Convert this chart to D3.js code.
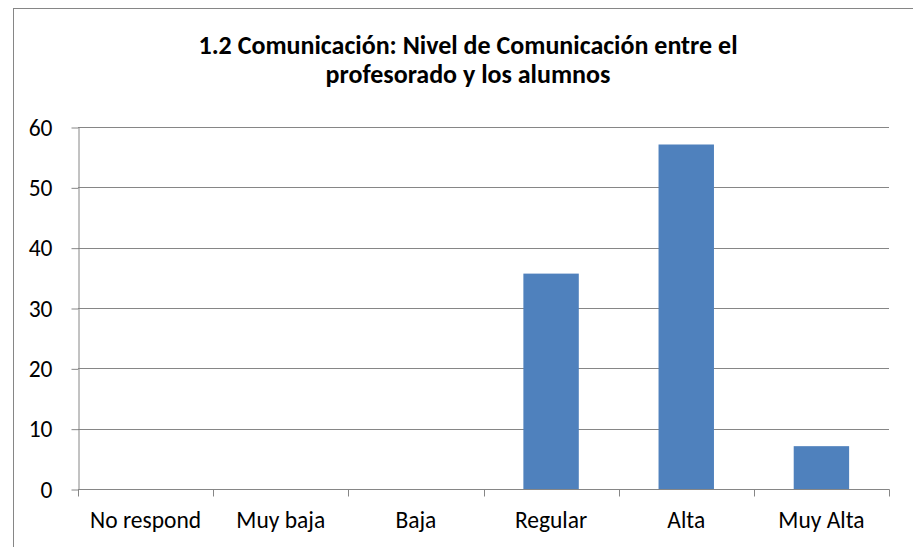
<!DOCTYPE html>
<html>
<head>
<meta charset="utf-8">
<script src="https://cdn.jsdelivr.net/npm/d3@7"></script>
<style>
  body { margin: 0; background: #ffffff; }
  svg { display: block; }
</style>
</head>
<body>
<div id="chart-container"></div>
<script>
// datos
const categorias = ["No respond", "Muy baja", "Baja", "Regular", "Alta", "Muy Alta"];
const valores = [0, 0, 0, 35.7, 57.1, 7.1];
const ticksY = [0, 10, 20, 30, 40, 50, 60];
const tituloLineas = [
  "1.2 Comunicación: Nivel de Comunicación entre el",
  "profesorado y los alumnos"
];

const width = 913;
const height = 547;
const margin = { top: 127, right: 24, bottom: 58, left: 78 };
const fontFamily = "Carlito, Calibri, Lato, 'Open Sans', sans-serif";
const gris = "#868686";

const svg = d3
  .select("#chart-container")
  .append("svg")
  .attr("width", width)
  .attr("height", height);

// borde del gráfico (recortado a la derecha y abajo)
svg
  .append("rect")
  .attr("x", 13.5)
  .attr("y", 8.5)
  .attr("width", width + 20)
  .attr("height", height + 20)
  .attr("fill", "#ffffff")
  .attr("stroke", gris)
  .attr("stroke-width", 1);

// escalas
const x = d3
  .scaleBand()
  .domain(categorias)
  .range([margin.left, width - margin.right])
  .paddingInner(0.59)
  .paddingOuter(0.295);

const xEdges = d3
  .scaleLinear()
  .domain([0, categorias.length])
  .range([margin.left, width - margin.right]);

const y = d3
  .scaleLinear()
  .domain([0, 60])
  .range([height - margin.bottom, margin.top]);

// líneas de cuadrícula
svg
  .append("g")
  .selectAll("line")
  .data(ticksY.filter((d) => d > 0))
  .enter()
  .append("line")
  .attr("x1", margin.left)
  .attr("x2", width - margin.right)
  .attr("y1", (d) => Math.round(y(d)) + 0.5)
  .attr("y2", (d) => Math.round(y(d)) + 0.5)
  .attr("stroke", gris)
  .attr("stroke-width", 1);

// barras
svg
  .append("g")
  .selectAll("rect")
  .data(categorias.map((c, i) => ({ cat: c, val: valores[i] })))
  .enter()
  .append("rect")
  .attr("x", (d) => x(d.cat))
  .attr("width", x.bandwidth())
  .attr("y", (d) => y(d.val))
  .attr("height", (d) => y(0) - y(d.val))
  .attr("fill", "#4F81BD");

// eje Y
const ejeY = svg
  .append("g")
  .attr("transform", `translate(${margin.left + 0.5},0.5)`)
  .call(d3.axisLeft(y).tickValues(ticksY).tickSize(7).tickSizeOuter(0).tickPadding(19));
ejeY.select(".domain").attr("stroke", gris);
ejeY.selectAll(".tick line").attr("stroke", gris);
ejeY
  .selectAll(".tick text")
  .style("font-family", fontFamily)
  .style("font-size", "23.5px")
  .attr("fill", "#000");

// eje X con marcas en los bordes de categoría
const ejeX = svg.append("g").attr("transform", `translate(0,${Math.round(y(0)) + 0.5})`);
ejeX
  .append("line")
  .attr("x1", margin.left)
  .attr("x2", width - margin.right + 0.5)
  .attr("stroke", gris);
ejeX
  .selectAll("line.tickX")
  .data(d3.range(categorias.length + 1))
  .enter()
  .append("line")
  .attr("class", "tickX")
  .attr("x1", (d) => Math.round(xEdges(d)) + 0.5)
  .attr("x2", (d) => Math.round(xEdges(d)) + 0.5)
  .attr("y1", 0)
  .attr("y2", 7)
  .attr("stroke", gris);
ejeX
  .selectAll("text")
  .data(categorias)
  .enter()
  .append("text")
  .attr("x", (d) => x(d) + x.bandwidth() / 2)
  .attr("y", 38)
  .attr("text-anchor", "middle")
  .style("font-family", fontFamily)
  .style("font-size", "23.5px")
  .attr("fill", "#000")
  .text((d) => d);

// título
svg
  .append("g")
  .selectAll("text")
  .data(tituloLineas)
  .enter()
  .append("text")
  .attr("x", 468)
  .attr("y", (d, i) => 54 + i * 29)
  .attr("text-anchor", "middle")
  .style("font-family", fontFamily)
  .style("font-size", "26px")
  .style("font-weight", "bold")
  .attr("fill", "#000")
  .text((d) => d);
</script>
</body>
</html>
